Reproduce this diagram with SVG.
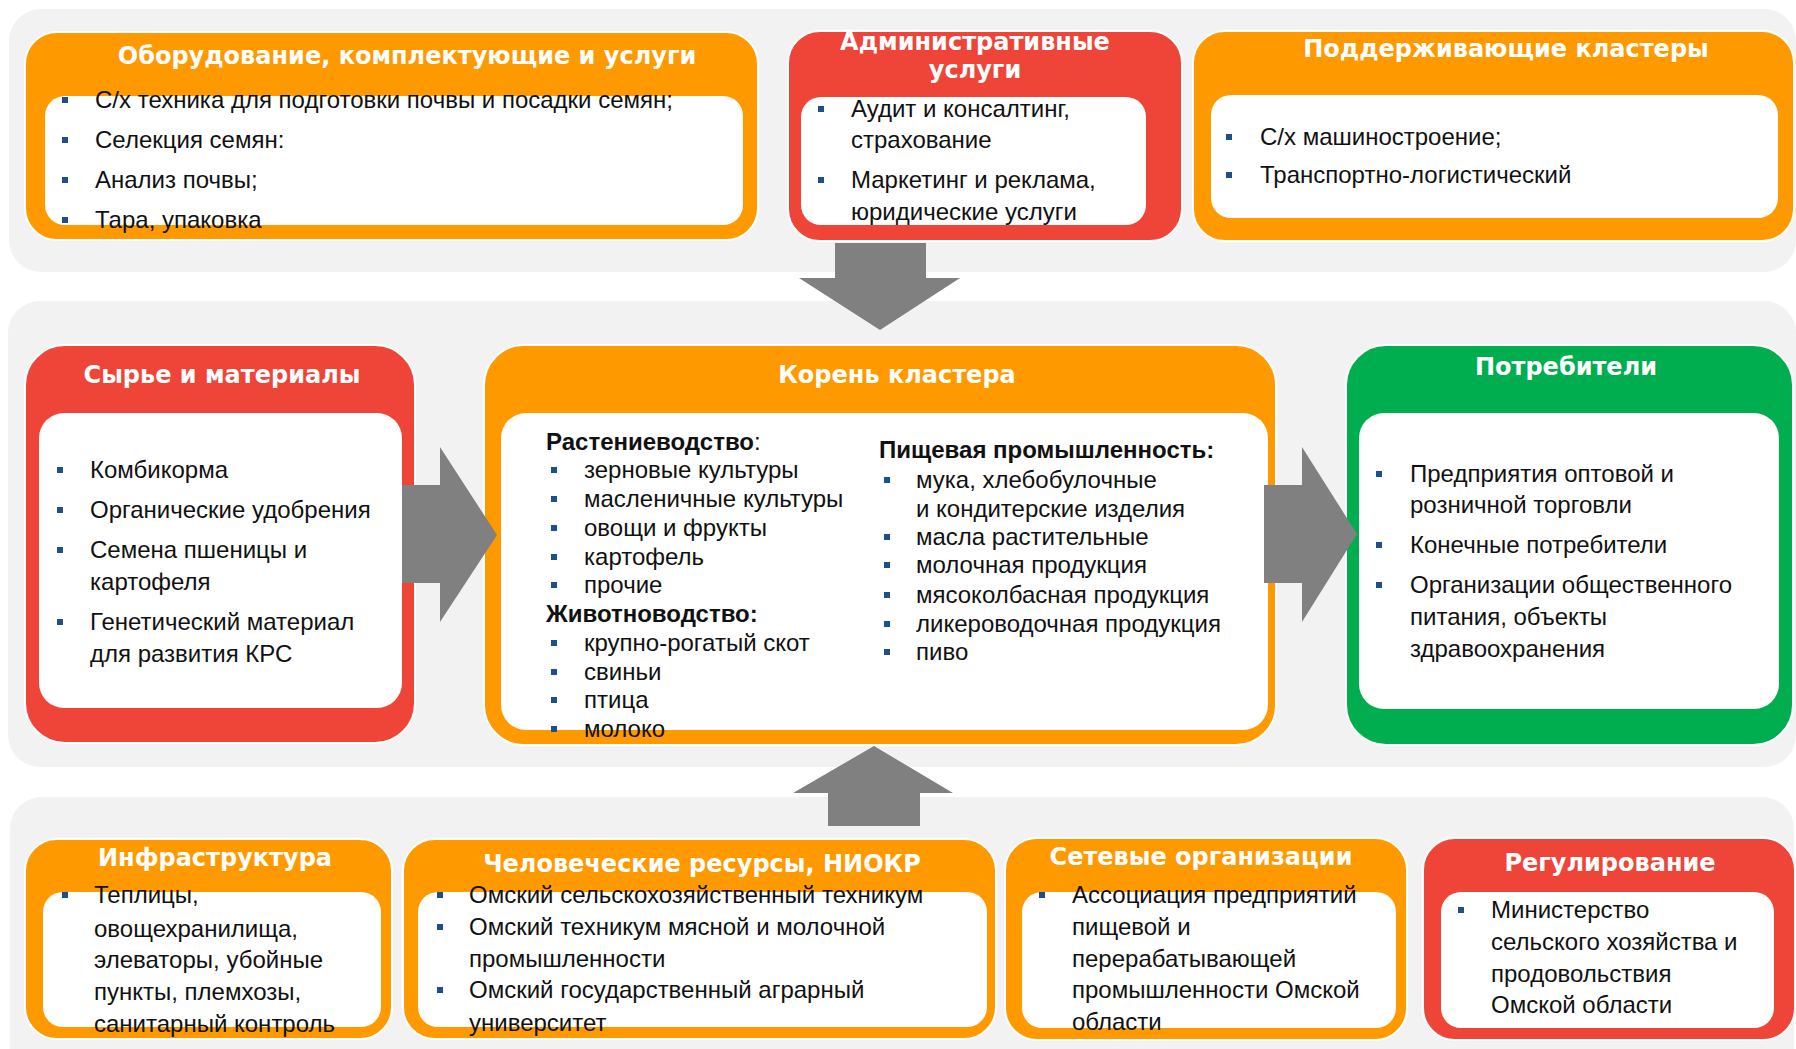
<svg xmlns="http://www.w3.org/2000/svg" width="1796" height="1049" viewBox="0 0 1796 1049">
<defs>
<style>
.panel{fill:#f2f2f2}
.or{fill:#ff9900;stroke:#ffffff;stroke-width:2}
.rd{fill:#ef4438;stroke:#ffffff;stroke-width:2}
.gr{fill:#00ae50;stroke:#ffffff;stroke-width:2}
.in{fill:#ffffff}
.t{font-family:"DejaVu Sans","Liberation Sans",sans-serif;font-weight:bold;fill:#ffffff;text-anchor:middle;font-size:24px}
.x{font-family:"Liberation Sans",Arial,sans-serif;fill:#111111;font-size:24px}
.bd{font-weight:bold}
.b{fill:#1f4e8c}
.arr{fill:#808080}
</style>
</defs>
<rect x="0" y="0" width="1796" height="1049" fill="#ffffff"/>
<rect class="panel" x="9" y="9" width="1787" height="263" rx="32"/>
<rect class="panel" x="8" y="301" width="1788" height="466" rx="32"/>
<rect class="panel" x="10" y="797" width="1784" height="290" rx="32"/>

<g id="equipment">
<rect class="or" x="25" y="32" width="733" height="208" rx="32"/>
<rect class="in" x="45" y="96" width="698" height="129" rx="20"/>
<text class="t" x="407" y="64">Оборудование, комплектующие и услуги</text>
<rect class="b" x="62" y="97" width="6" height="6"/><text class="x" x="95" y="108">С/х техника для подготовки почвы и посадки семян;</text>
<rect class="b" x="62" y="137" width="6" height="6"/><text class="x" x="95" y="148">Селекция семян:</text>
<rect class="b" x="62" y="177" width="6" height="6"/><text class="x" x="95" y="188">Анализ почвы;</text>
<rect class="b" x="62" y="217" width="6" height="6"/><text class="x" x="95" y="228">Тара, упаковка</text>
</g>

<g id="admin">
<rect class="rd" x="788" y="31" width="394" height="210" rx="32"/>
<rect class="in" x="801" y="97" width="345" height="128" rx="20"/>
<text class="t" x="975" y="50">Административные</text>
<text class="t" x="975" y="78">услуги</text>
<rect class="b" x="818" y="106" width="6" height="6"/><text class="x" x="851" y="117">Аудит и консалтинг,</text>
<text class="x" x="851" y="148">страхование</text>
<rect class="b" x="818" y="177" width="6" height="6"/><text class="x" x="851" y="188">Маркетинг и реклама,</text>
<text class="x" x="851" y="220">юридические услуги</text>
</g>

<g id="support">
<rect class="or" x="1193" y="31" width="601" height="210" rx="32"/>
<rect class="in" x="1211" y="95" width="567" height="123" rx="20"/>
<text class="t" x="1506" y="57">Поддерживающие кластеры</text>
<rect class="b" x="1226" y="134" width="6" height="6"/><text class="x" x="1260" y="145">С/х машиностроение;</text>
<rect class="b" x="1226" y="172" width="6" height="6"/><text class="x" x="1260" y="183">Транспортно-логистический</text>
</g>

<g id="raw">
<rect class="rd" x="25" y="345" width="390" height="398" rx="40"/>
<rect class="in" x="39" y="413" width="363" height="295" rx="25"/>
<text class="t" x="222" y="383">Сырье и материалы</text>
<rect class="b" x="57" y="467" width="6" height="6"/><text class="x" x="90" y="478">Комбикорма</text>
<rect class="b" x="57" y="507" width="6" height="6"/><text class="x" x="90" y="518">Органические удобрения</text>
<rect class="b" x="57" y="547" width="6" height="6"/><text class="x" x="90" y="558">Семена пшеницы и</text>
<text class="x" x="90" y="590">картофеля</text>
<rect class="b" x="57" y="619" width="6" height="6"/><text class="x" x="90" y="630">Генетический материал</text>
<text class="x" x="90" y="662">для развития КРС</text>
</g>

<g id="core">
<rect class="or" x="484" y="345" width="792" height="400" rx="40"/>
<rect class="in" x="501" y="413" width="767" height="317" rx="25"/>
<text class="t" x="897" y="383">Корень кластера</text>
<text class="x" x="546" y="450"><tspan class="bd">Растениеводство</tspan>:</text>
<rect class="b" x="551" y="467" width="6" height="6"/><text class="x" x="584" y="478">зерновые культуры</text>
<rect class="b" x="551" y="496" width="6" height="6"/><text class="x" x="584" y="507">масленичные культуры</text>
<rect class="b" x="551" y="525" width="6" height="6"/><text class="x" x="584" y="536">овощи и фрукты</text>
<rect class="b" x="551" y="554" width="6" height="6"/><text class="x" x="584" y="565">картофель</text>
<rect class="b" x="551" y="582" width="6" height="6"/><text class="x" x="584" y="593">прочие</text>
<text class="x bd" x="546" y="622">Животноводство:</text>
<rect class="b" x="551" y="640" width="6" height="6"/><text class="x" x="584" y="651">крупно-рогатый скот</text>
<rect class="b" x="551" y="669" width="6" height="6"/><text class="x" x="584" y="680">свиньи</text>
<rect class="b" x="551" y="697" width="6" height="6"/><text class="x" x="584" y="708">птица</text>
<rect class="b" x="551" y="726" width="6" height="6"/><text class="x" x="584" y="737">молоко</text>
<text class="x bd" x="879" y="458">Пищевая промышленность:</text>
<rect class="b" x="884" y="477" width="6" height="6"/><text class="x" x="916" y="488">мука, хлебобулочные</text>
<text class="x" x="916" y="517">и кондитерские изделия</text>
<rect class="b" x="884" y="534" width="6" height="6"/><text class="x" x="916" y="545">масла растительные</text>
<rect class="b" x="884" y="562" width="6" height="6"/><text class="x" x="916" y="573">молочная продукция</text>
<rect class="b" x="884" y="592" width="6" height="6"/><text class="x" x="916" y="603">мясоколбасная продукция</text>
<rect class="b" x="884" y="621" width="6" height="6"/><text class="x" x="916" y="632">ликероводочная продукция</text>
<rect class="b" x="884" y="649" width="6" height="6"/><text class="x" x="916" y="660">пиво</text>
</g>

<g id="consumers">
<rect class="gr" x="1346" y="345" width="447" height="400" rx="40"/>
<rect class="in" x="1359" y="413" width="420" height="296" rx="25"/>
<text class="t" x="1566" y="375">Потребители</text>
<rect class="b" x="1376" y="471" width="6" height="6"/><text class="x" x="1410" y="482">Предприятия оптовой и</text>
<text class="x" x="1410" y="513">розничной торговли</text>
<rect class="b" x="1376" y="542" width="6" height="6"/><text class="x" x="1410" y="553">Конечные потребители</text>
<rect class="b" x="1376" y="582" width="6" height="6"/><text class="x" x="1410" y="593">Организации общественного</text>
<text class="x" x="1410" y="625">питания, объекты</text>
<text class="x" x="1410" y="657">здравоохранения</text>
</g>

<g id="infra">
<rect class="or" x="25" y="839" width="367" height="200" rx="32"/>
<rect class="in" x="43" y="892" width="338" height="135" rx="20"/>
<text class="t" x="215" y="866">Инфраструктура</text>
<rect class="b" x="62" y="892" width="6" height="6"/><text class="x" x="94" y="903">Теплицы,</text>
<text class="x" x="94" y="937">овощехранилища,</text>
<text class="x" x="94" y="968">элеваторы, убойные</text>
<text class="x" x="94" y="1000">пункты, племхозы,</text>
<text class="x" x="94" y="1032">санитарный контроль</text>
</g>

<g id="hr">
<rect class="or" x="403" y="839" width="593" height="200" rx="32"/>
<rect class="in" x="418" y="892" width="569" height="135" rx="20"/>
<text class="t" x="702" y="872">Человеческие ресурсы, НИОКР</text>
<rect class="b" x="437" y="892" width="6" height="6"/><text class="x" x="469" y="903">Омский сельскохозяйственный техникум</text>
<rect class="b" x="437" y="924" width="6" height="6"/><text class="x" x="469" y="935">Омский техникум мясной и молочной</text>
<text class="x" x="469" y="967">промышленности</text>
<rect class="b" x="437" y="987" width="6" height="6"/><text class="x" x="469" y="998">Омский государственный аграрный</text>
<text class="x" x="469" y="1031">университет</text>
</g>

<g id="network">
<rect class="or" x="1005" y="838" width="402" height="202" rx="32"/>
<rect class="in" x="1022" y="892" width="374" height="136" rx="20"/>
<text class="t" x="1201" y="865">Сетевые организации</text>
<rect class="b" x="1039" y="892" width="6" height="6"/><text class="x" x="1072" y="903">Ассоциация предприятий</text>
<text class="x" x="1072" y="935">пищевой и</text>
<text class="x" x="1072" y="967">перерабатывающей</text>
<text class="x" x="1072" y="998">промышленности Омской</text>
<text class="x" x="1072" y="1030">области</text>
</g>

<g id="regulation">
<rect class="rd" x="1423" y="838" width="372" height="202" rx="32"/>
<rect class="in" x="1441" y="892" width="333" height="136" rx="20"/>
<text class="t" x="1610" y="871">Регулирование</text>
<rect class="b" x="1458" y="907" width="6" height="6"/><text class="x" x="1491" y="918">Министерство</text>
<text class="x" x="1491" y="950">сельского хозяйства и</text>
<text class="x" x="1491" y="982">продовольствия</text>
<text class="x" x="1491" y="1013">Омской области</text>
</g>

<g id="connectors">
<polygon class="arr" points="835,243 926,243 926,278 960,278 880,330 799,278 835,278"/>
<polygon class="arr" points="402,485 440,485 440,447 497,535 440,622 440,583 402,583"/>
<polygon class="arr" points="1264,485 1302,485 1302,447 1357,534 1302,622 1302,583 1264,583"/>
<polygon class="arr" points="874,746 953,793 920,793 920,826 828,826 828,793 793,793"/>
</g>
</svg>
